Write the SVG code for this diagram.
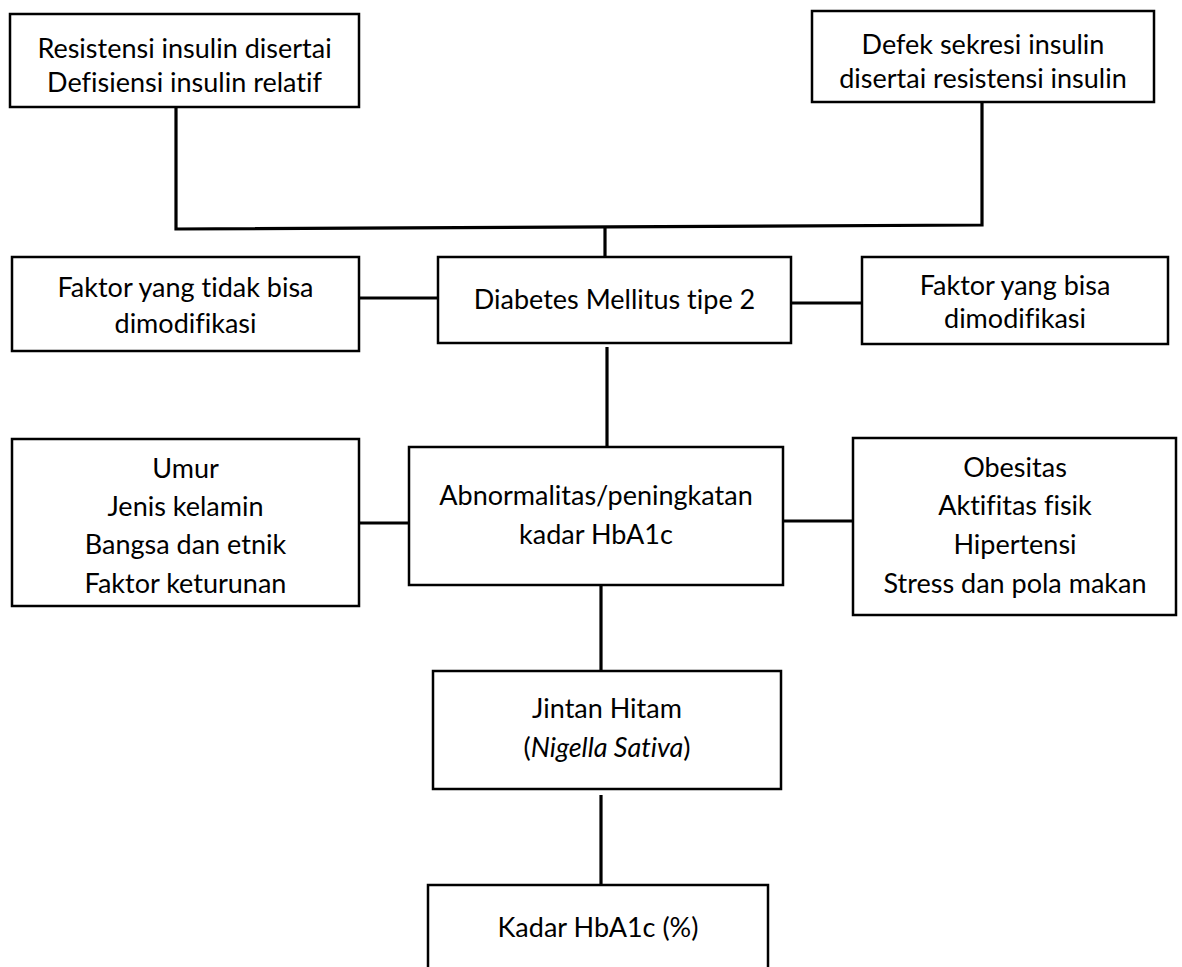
<svg xmlns="http://www.w3.org/2000/svg" width="1182" height="967" viewBox="0 0 1182 967">
<style>
.box{fill:#fff;stroke:#000;stroke-width:2.5}
.t{font-family:Lato,"Liberation Sans",sans-serif;font-size:27px;fill:#000;text-anchor:middle;font-variant-ligatures:none;font-feature-settings:"liga" 0,"dlig" 0}
.c{fill:none;stroke:#000;stroke-width:3.2}
.it{font-style:italic}
</style>
<rect width="1182" height="967" fill="#fff"/>
<g id="connectors">
<polyline class="c" points="176,107 176,229 982,225 982,102"/>
<line class="c" x1="605" y1="227" x2="605" y2="257"/>
<line class="c" x1="359" y1="298" x2="438" y2="298"/>
<line class="c" x1="791" y1="303" x2="862" y2="303"/>
<line class="c" x1="607" y1="347" x2="607" y2="447"/>
<line class="c" x1="359" y1="523" x2="409" y2="523"/>
<line class="c" x1="783" y1="521" x2="853" y2="521"/>
<line class="c" x1="601" y1="585" x2="601" y2="671"/>
<line class="c" x1="601" y1="795" x2="601" y2="885"/>
</g>
<g id="n1">
<rect class="box" x="10" y="14" width="349" height="93"/>
<text class="t" x="184.5" y="58">Resistensi insulin disertai</text>
<text class="t" x="184.5" y="92">Defisiensi insulin relatif</text>
</g>
<g id="n2">
<rect class="box" x="812" y="11" width="342" height="91"/>
<text class="t" x="983" y="54">Defek sekresi insulin</text>
<text class="t" x="983" y="88">disertai resistensi insulin</text>
</g>
<g id="n3">
<rect class="box" x="12" y="257" width="347" height="94"/>
<text class="t" x="185.5" y="297">Faktor yang tidak bisa</text>
<text class="t" x="185.5" y="333">dimodifikasi</text>
</g>
<g id="n4">
<rect class="box" x="438" y="257" width="353" height="86"/>
<text class="t" x="614.5" y="309">Diabetes Mellitus tipe 2</text>
</g>
<g id="n5">
<rect class="box" x="862" y="257" width="306" height="87"/>
<text class="t" x="1015" y="295">Faktor yang bisa</text>
<text class="t" x="1015" y="328">dimodifikasi</text>
</g>
<g id="n6">
<rect class="box" x="12" y="439" width="347" height="167"/>
<text class="t" x="185.5" y="478">Umur</text>
<text class="t" x="185.5" y="516">Jenis kelamin</text>
<text class="t" x="185.5" y="554">Bangsa dan etnik</text>
<text class="t" x="185.5" y="593">Faktor keturunan</text>
</g>
<g id="n7">
<rect class="box" x="409" y="447" width="374" height="138"/>
<text class="t" x="596" y="505">Abnormalitas/peningkatan</text>
<text class="t" x="596" y="544">kadar HbA1c</text>
</g>
<g id="n8">
<rect class="box" x="853" y="438" width="323" height="177"/>
<text class="t" x="1015" y="477">Obesitas</text>
<text class="t" x="1015" y="515">Aktifitas fisik</text>
<text class="t" x="1015" y="554">Hipertensi</text>
<text class="t" x="1015" y="593">Stress dan pola makan</text>
</g>
<g id="n9">
<rect class="box" x="433" y="671" width="348" height="118"/>
<text class="t" x="607" y="718">Jintan Hitam</text>
<text class="t" x="607" y="757">(<tspan class="it">Nigella Sativa</tspan>)</text>
</g>
<g id="n10">
<rect class="box" x="428" y="885" width="340" height="110"/>
<text class="t" x="598" y="937">Kadar HbA1c (%)</text>
</g>
</svg>
